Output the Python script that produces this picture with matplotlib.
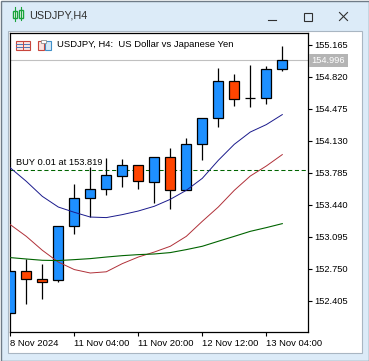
import matplotlib
matplotlib.use('Agg')
import matplotlib.pyplot as plt
import numpy as np
from matplotlib.patches import Rectangle

# candles, oldest first
opens = [152.278, 152.731, 152.645, 152.634, 153.216, 153.517, 153.614, 153.754, 153.873,
         153.690, 153.957, 153.604, 154.099, 154.380, 154.778, 154.595, 154.595, 154.908]
highs = [152.731, 152.860, 152.806, 153.216, 153.668, 153.847, 153.948, 153.938, 153.873,
         153.957, 154.056, 154.164, 154.380, 154.918, 154.854, 154.943, 154.932, 155.148]
lows = [152.278, 152.375, 152.425, 152.608, 153.125, 153.313, 153.545, 153.632, 153.610,
        153.459, 153.397, 153.604, 153.925, 154.278, 154.505, 154.494, 154.530, 154.882]
closes = [152.731, 152.645, 152.608, 153.216, 153.517, 153.614, 153.763, 153.873, 153.701,
          153.957, 153.604, 154.099, 154.380, 154.778, 154.584, 154.595, 154.908, 154.996]

# moving averages
ma_blue = [153.838, 153.693, 153.531, 153.416, 153.359, 153.308, 153.302, 153.334, 153.373,
           153.424, 153.499, 153.596, 153.725, 153.919, 154.092, 154.224, 154.304, 154.412]
ma_red = [153.226, 153.100, 152.950, 152.823, 152.742, 152.705, 152.718, 152.806, 152.877,
          152.931, 152.993, 153.100, 153.262, 153.416, 153.596, 153.750, 153.858, 153.981]
ma_green = [152.871, 152.856, 152.842, 152.839, 152.849, 152.860, 152.877, 152.892, 152.903,
            152.910, 152.925, 152.957, 152.993, 153.047, 153.100, 153.154, 153.194, 153.237]

buy_price = 153.819
bid_price = 154.996

price_ticks = [155.165, 154.820, 154.475, 154.130, 153.785, 153.440, 153.095, 152.750, 152.405]
time_ticks = [0, 4, 8, 12, 16]
time_labels = ['8 Nov 2024', '11 Nov 04:00', '11 Nov 20:00', '12 Nov 12:00', '13 Nov 04:00']

W, H = 369, 361
plt.rcParams['font.family'] = ['Liberation Sans', 'DejaVu Sans']
fig = plt.figure(figsize=(W / 100, H / 100), dpi=100)

# 窗口外框，用像素坐标
bg = fig.add_axes([0, 0, 1, 1])
bg.set_xlim(0, W)
bg.set_ylim(H, 0)
bg.axis('off')
bg.add_patch(Rectangle((0.5, 0.5), W - 1, H - 1, fc='#dcebf8', ec='#6f7b87', lw=1))
bg.add_patch(Rectangle((7.5, 30.5), 354, 322, fc='white', ec='#a9b6c2', lw=0.8))
bg.text(29.5, 15, 'USDJPY,H4', fontsize=7.8, color='#303030', va='center', ha='left')

# 标题栏图标和按钮
bg.plot([14.5, 14.5], [7, 21], color='#1aa33c', lw=0.8)
bg.plot([20.5, 20.5], [7, 20], color='#1aa33c', lw=0.8)
bg.add_patch(Rectangle((12.5, 10.5), 4, 7, fc='white', ec='#1aa33c', lw=1))
bg.add_patch(Rectangle((18.5, 9.5), 4, 8, fc='white', ec='#1aa33c', lw=1))
bg.plot([267.5, 276], [20, 20], color='#303030', lw=0.8)
bg.add_patch(Rectangle((303.5, 12.5), 8, 8, fc='none', ec='#303030', lw=0.8))
bg.plot([339.5, 347.5], [12.5, 20.5], color='#303030', lw=0.8)
bg.plot([339.5, 347.5], [20.5, 12.5], color='#303030', lw=0.8)

# 左上角两个小图标
bg.add_patch(Rectangle((15.5, 40.5), 14, 9, fc='#fbe3e0', ec='#c8453c', lw=0.8))
for yy in [43.5, 46.5]:
    bg.plot([16, 29], [yy, yy], color='#4a78b8', lw=0.7)
bg.plot([22.5, 22.5], [41, 49], color='#c8453c', lw=0.7)
bg.add_patch(Rectangle((37.5, 40.5), 6, 9, fc='#fbe3e0', ec='#c8453c', lw=0.8))
bg.add_patch(Rectangle((44.5, 40.5), 6, 9, fc='#d5e9f8', ec='#3f8fc8', lw=0.8))
bg.add_patch(Rectangle((40.5, 39.5), 5, 3, fc='white', ec='#909090', lw=0.6))
bg.text(56.7, 44.7, 'USDJPY, H4:  US Dollar vs Japanese Yen', fontsize=6.8, color='black',
        va='center', ha='left')

# 图表区
ax = fig.add_axes([10.3 / W, 1 - 332.3 / H, 298 / W, 299 / H])
ax.patch.set_alpha(0)
ax.set_xlim(0, 18.625)
ax.set_ylim(152.066, 155.288)

x = np.arange(len(opens))
o = np.array(opens)
c = np.array(closes)
colors = ['#1e90ff' if b >= a else '#ff4500' for a, b in zip(o, c)]

ax.vlines(x, lows, highs, color='black', lw=0.9, zorder=2)
ax.bar(x, c - o, bottom=o, width=0.625, color=colors, edgecolor='black', linewidth=0.9, zorder=3)

ax.plot(x, ma_blue, color='#1a1a8c', lw=0.7, zorder=4)
ax.plot(x, ma_red, color='#b03038', lw=0.7, zorder=4)
ax.plot(x, ma_green, color='#006400', lw=0.8, zorder=4)

ax.axhline(buy_price, color='#006400', lw=0.75, linestyle=(0, (4, 2.5)), zorder=1)
ax.axhline(bid_price, color='#c0c0c0', lw=0.8, zorder=1)
ax.annotate('BUY 0.01 at 153.819', xy=(0, buy_price), xytext=(4, 2.2), textcoords='offset points',
            fontsize=6.7, color='black', va='bottom', ha='left', zorder=5)

# 坐标轴
ax.yaxis.tick_right()
ax.set_yticks(price_ticks)
ax.set_yticklabels(['{:.3f}'.format(p) for p in price_ticks])
ax.set_xticks(time_ticks)
ax.set_xticklabels(time_labels, ha='left')
ax.tick_params(axis='y', length=3, width=0.8, pad=1, labelsize=6.7)
ax.tick_params(axis='x', length=3, width=0.8, pad=1.6, labelsize=6.8)
for s in ax.spines.values():
    s.set_linewidth(0.9)

# 当前价标签
ax.text(1.0115, bid_price, '154.996', transform=ax.get_yaxis_transform(), fontsize=6.7, color='white',
        va='center', ha='left', clip_on=False,
        bbox=dict(boxstyle='square,pad=0.25', fc='#b4b4b4', ec='none'))

fig.savefig('out.png', dpi=100)
